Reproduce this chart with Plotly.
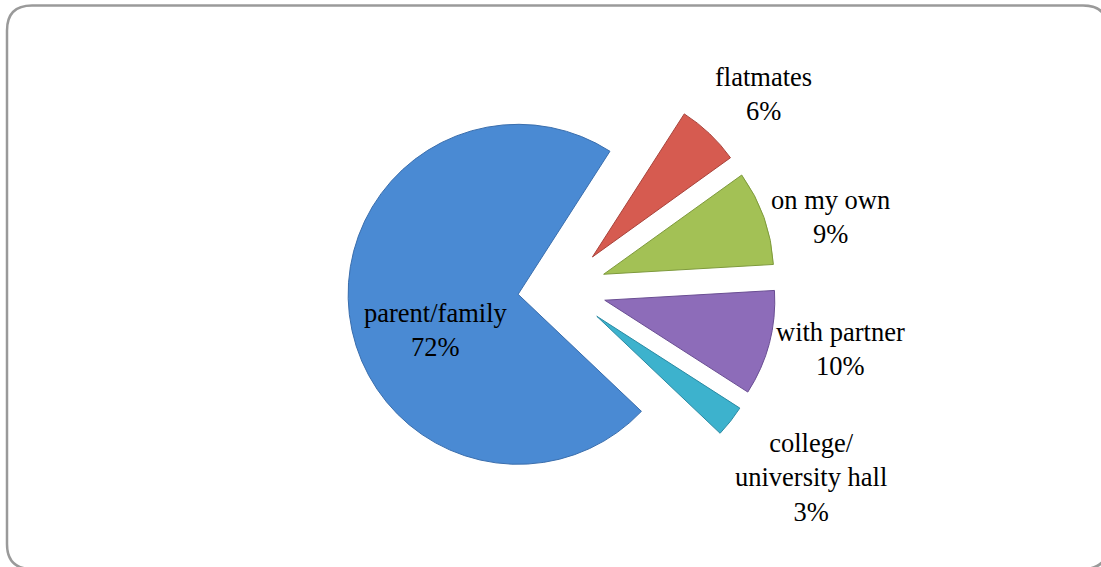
import plotly.graph_objects as go

# Living arrangements (share of respondents, %)
categories = ["flatmates", "on my own", "with partner",
              "college/<br>university hall", "parent/family"]
shares = [6, 9, 10, 3, 72]

slice_colors = ["#D65B50", "#A3C155", "#8D6CB9", "#3DB2CD", "#4A8AD3"]
edge_colors = ["#A8423A", "#7E9A3C", "#6A4E93", "#2A8AA3", "#3A6EAD"]

# label anchor points (pixels) for each category's text
label_px = [(763, 94), (830, 217), (840, 349), (811, 477), (435, 330)]

W, H = 1101, 567

# pie box: centre (562, 289), half-height 214 px
cx, cy, half_w, half_h = 562, 289, 260, 214.2

fig = go.Figure()
fig.add_trace(go.Pie(
    labels=categories,
    values=shares,
    sort=False,
    direction="clockwise",
    rotation=32.7,
    pull=[0.26] * len(shares),
    marker=dict(colors=slice_colors, line=dict(color=edge_colors, width=1)),
    textinfo="none",
    hoverinfo="label+percent",
    showlegend=False,
    domain=dict(x=[(cx - half_w) / W, (cx + half_w) / W],
                y=[1 - (cy + half_h) / H, 1 - (cy - half_h) / H]),
))

total = sum(shares)
annotations = []
for name, v, (px_, py_) in zip(categories, shares, label_px):
    annotations.append(dict(
        x=px_ / W, y=1 - py_ / H, xref="paper", yref="paper",
        text=f"{name}<br>{round(100 * v / total)}%",
        showarrow=False, xanchor="center", yanchor="middle",
        align="center",
        font=dict(family="Liberation Serif, Times New Roman, serif",
                  size=26.5, color="#000000"),
    ))

# rounded outer frame
L, T, R, B, rad = 7, 5.5, 1108, 569, 25
def px(x):
    return x / W
def py(y):
    return 1 - y / H
frame = (f"M {px(L)},{py(T + rad)} Q {px(L)},{py(T)} {px(L + rad)},{py(T)} "
         f"L {px(R - rad)},{py(T)} Q {px(R)},{py(T)} {px(R)},{py(T + rad)} "
         f"L {px(R)},{py(B - rad)} Q {px(R)},{py(B)} {px(R - rad)},{py(B)} "
         f"L {px(L + rad)},{py(B)} Q {px(L)},{py(B)} {px(L)},{py(B - rad)} Z")

fig.update_layout(
    width=W, height=H,
    margin=dict(l=0, r=0, t=0, b=0),
    paper_bgcolor="white",
    plot_bgcolor="white",
    annotations=annotations,
    shapes=[dict(type="path", path=frame, xref="paper", yref="paper",
                 line=dict(color="#9A9A9A", width=2.5), layer="below")],
)

fig.write_html("out.html")
